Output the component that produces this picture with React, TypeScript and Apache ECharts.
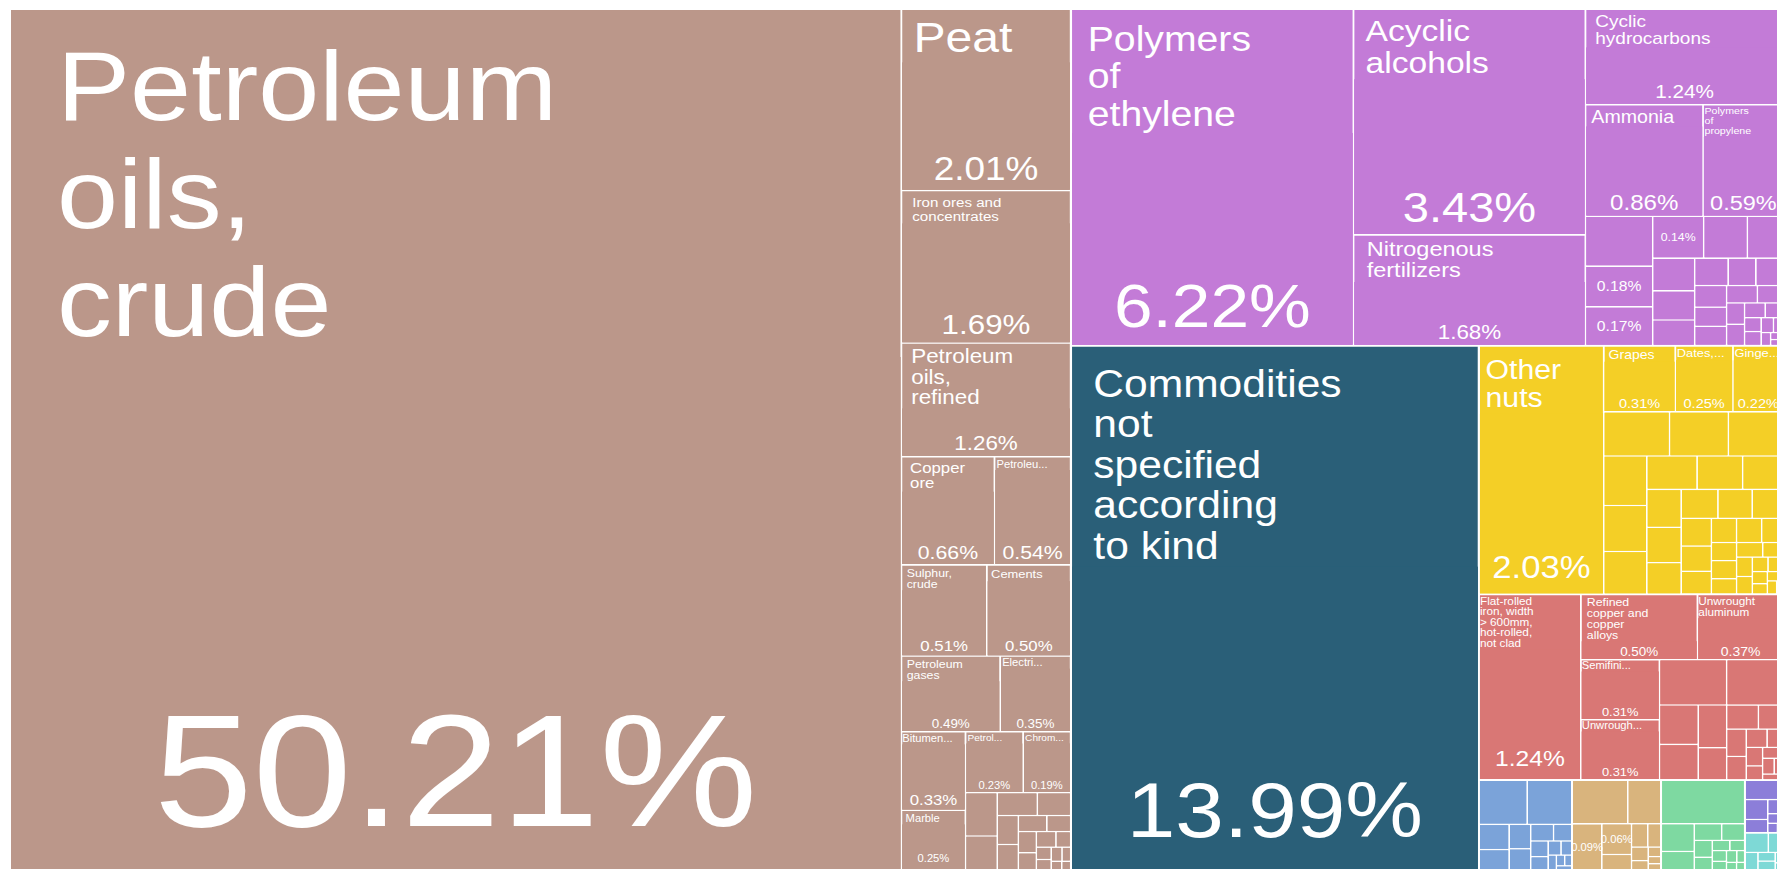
import React, { useEffect, useRef } from 'react';
import * as echarts from 'echarts';

const FONT = '"Liberation Sans", Arial, Helvetica, sans-serif';

// ---------------- DATA (shares of total exports, %) ----------------
const mineralNames = [
  'Petroleum\noils,\ncrude', 'Peat', 'Iron ores and\nconcentrates', 'Petroleum\noils,\nrefined',
  'Copper\nore', 'Petroleu...', 'Sulphur,\ncrude', 'Cements', 'Petroleum\ngases', 'Electri...',
  'Bitumen...', 'Marble', 'Petrol...', 'Chrom...',
];
const mineralValues = [50.21, 2.01, 1.69, 1.26, 0.66, 0.54, 0.51, 0.5, 0.49, 0.35, 0.33, 0.25, 0.23, 0.19];
const mineralSmall = [0.09, 0.07, 0.06, 0.05, 0.04, 0.035, 0.03, 0.025, 0.025, 0.02, 0.02, 0.015, 0.012, 0.01, 0.01, 0.008, 0.006, 0.005];

const chemNames = [
  'Polymers\nof\nethylene', 'Acyclic\nalcohols', 'Nitrogenous\nfertilizers', 'Cyclic\nhydrocarbons',
  'Ammonia', 'Polymers\nof\npropylene', '', '', '', '',
];
const chemValues = [6.22, 3.43, 1.68, 1.24, 0.86, 0.59, 0.22, 0.18, 0.17, 0.14];
const chemSmall = [0.12, 0.1, 0.09, 0.08, 0.07, 0.06, 0.05, 0.05, 0.045, 0.04, 0.04, 0.035, 0.03, 0.025, 0.025, 0.02, 0.018, 0.015, 0.015, 0.012, 0.01, 0.008, 0.006, 0.005];

const unspecNames = ['Commodities\nnot\nspecified\naccording\nto kind'];
const unspecValues = [13.99];

const vegNames = ['Other\nnuts', 'Grapes', 'Dates,...', 'Ginge...'];
const vegValues = [2.03, 0.31, 0.25, 0.22];
const vegSmall = [0.19, 0.17, 0.16, 0.14, 0.13, 0.12, 0.11, 0.1, 0.09, 0.085, 0.08, 0.07, 0.07, 0.065, 0.06, 0.055, 0.05, 0.045, 0.04, 0.04, 0.035, 0.03, 0.03, 0.025, 0.025, 0.02, 0.02, 0.018, 0.015, 0.015, 0.012, 0.01, 0.01, 0.008, 0.006];

const metalNames = [
  'Flat-rolled\niron, width\n> 600mm,\nhot-rolled,\nnot clad', 'Refined\ncopper and\ncopper\nalloys',
  'Unwrought\naluminum', 'Unwrough...', 'Semifini...',
];
const metalValues = [1.24, 0.5, 0.37, 0.31, 0.31];
const metalSmall = [0.2, 0.17, 0.1, 0.09, 0.08, 0.06, 0.05, 0.04, 0.035, 0.03, 0.025, 0.02, 0.02, 0.015, 0.015, 0.012, 0.01, 0.008];

const blueSmall = [0.14, 0.13, 0.05, 0.04, 0.035, 0.03, 0.025, 0.02, 0.018, 0.015, 0.012, 0.01, 0.008, 0.006, 0.005, 0.004];
const tanNames = ['', '', '', ''];
const tanValues = [0.16, 0.095, 0.09, 0.06];
const tanSmall = [0.03, 0.025, 0.02, 0.015, 0.01, 0.008, 0.006, 0.005];
const greenSmall = [0.24, 0.06, 0.04, 0.03, 0.025, 0.02, 0.015, 0.012, 0.01, 0.01, 0.008, 0.008, 0.006, 0.005, 0.004];
const lavenderSmall = [0.05, 0.03, 0.02, 0.015, 0.01, 0.006, 0.004];
const cyanSmall = [0.03, 0.02, 0.015, 0.01, 0.01, 0.006, 0.004];

// ---------------- STYLES ----------------
const COLORS = {
  mineral: '#BB978A',
  chem: '#C37BD7',
  unspec: '#2A5F78',
  veg: '#F4CF26',
  metal: '#D97775',
  blue: '#7BA3D9',
  tan: '#D9B47D',
  green: '#7ED9A1',
  lavender: '#8C7ED9',
  cyan: '#7ED9D6',
};

// [nameFont, nameLineHeight, padTop, padLeft, pctFont, pctDistance]; nameFont 0 = percentage only
type LS = number[] | null;
const mineralStyle: LS[] = [
  [98, 108, 22, 41, 159, 19], [43, 48, 3.5, 10, 33, 5], [13.5, 13.5, 4.3, 9, 28, 4], [20, 20.4, 2.5, 8, 20, 3],
  [15, 15, 3.3, 7, 19, 2], [10, 10, 1.5, 1, 19, 2], [11, 11, 1.5, 4, 15, 2], [11.5, 11.5, 3, 3, 15, 2],
  [11, 11, 1.5, 4, 12, 1.5], [10, 10, 1, 1, 12, 1.5], [10, 10, 1, 0, 15, 2], [10, 10, 2.5, 3, 10, 6],
  [9, 9, 1, 1, 10, 1.5], [9, 9, 1, 1, 10, 1.5],
];
const chemStyle: LS[] = [
  [35, 37.5, 9.6, 14, 62, 8.5], [30, 31.6, 5, 10, 42, 5.5], [21, 21.5, 2.2, 11, 20, 3], [17, 17, 2.6, 8, 18.5, 3],
  [17.5, 17.5, 2.5, 4.5, 21.5, 2], [9.5, 10, 0.5, 0.5, 21, 2], null, [0, 0, 0, 0, 14, 0], [0, 0, 0, 0, 14, 0], [0, 0, 0, 0, 11, 0],
];
const unspecStyle: LS[] = [[38, 40.5, 16.5, 19, 78, 20]];
const vegStyle: LS[] = [[27, 28.5, 8.5, 5, 31, 10], [12.5, 12.5, 1.5, 3.5, 13, 1], [11.5, 11.5, 1, 0.5, 13, 1], [11.5, 11.5, 1, 0.5, 13, 1]];
const metalStyle: LS[] = [[10.5, 10.5, 0.5, 0, 22, 9.5], [11, 11, 1, 4.5, 12, 1], [10.5, 10.5, 1, 0, 12.5, 1], [10, 10, 0, 0, 11.5, 1], [10, 10, 0, 0, 11.5, 1]];
const tanStyle: LS[] = [null, null, [0, 0, 0, 0, 10, 0], [0, 0, 0, 0, 10, 0]];

const CHART_W = 1582;
const CHART_H = 859;
const STRETCH = 1.12;

function pctLabel(v: number, fs: number, dist: number, pos: string) {
  return {
    show: true, position: pos, distance: dist, padding: 0,
    formatter: v.toFixed(2) + '%', fontSize: fs, lineHeight: fs,
    color: '#ffffff', fontFamily: FONT, overflow: 'none',
  };
}

function leaf(name: string, value: number, color: string, st: LS): any {
  const itemStyle = { color, borderColor: color, borderWidth: 0, gapWidth: 0 };
  if (!st) return { name, value, itemStyle, label: { show: false } };
  const [nf, nlh, pt, pl, pf, pd] = st;
  if (!nf) return { name, value, itemStyle, label: pctLabel(value, pf, pd, 'inside') };
  const lines = name.split('\n').length;
  return {
    name,
    value,
    itemStyle,
    upperLabel: {
      show: true, height: pt + lines * nlh + 1, position: 'insideTopLeft', verticalAlign: 'top', align: 'left',
      distance: 0, padding: [pt, 0, 0, pl], fontSize: nf, lineHeight: nlh, color: '#ffffff',
      fontFamily: FONT, overflow: 'none',
    },
    children: [
      { name, value, itemStyle, label: pf ? pctLabel(value, pf, pd, 'insideBottom') : { show: false } },
    ],
  };
}

function group(name: string, color: string, names: string[], values: number[], styles: LS[], small: number[]) {
  const children: any[] = [];
  values.forEach((v, i) => children.push(leaf(names[i], v, color, styles[i] ?? null)));
  small.forEach((v) => children.push(leaf('', v, color, null)));
  return { name, itemStyle: { color, borderColor: '#ffffff', borderWidth: 0, gapWidth: 1.6 }, children };
}

export default function App() {
  const ref = useRef<HTMLDivElement>(null);
  useEffect(() => {
    if (!ref.current) return;
    const chart = echarts.init(ref.current, null, { renderer: 'svg' });
    const data = [
      group('Mineral Products', COLORS.mineral, mineralNames, mineralValues, mineralStyle, mineralSmall),
      group('Chemical Products', COLORS.chem, chemNames, chemValues, chemStyle, chemSmall),
      group('Unspecified', COLORS.unspec, unspecNames, unspecValues, unspecStyle, []),
      group('Vegetable Products', COLORS.veg, vegNames, vegValues, vegStyle, vegSmall),
      group('Metals', COLORS.metal, metalNames, metalValues, metalStyle, metalSmall),
      group('Machines', COLORS.blue, [], [], [], blueSmall),
      group('Foodstuffs', COLORS.tan, tanNames, tanValues, tanStyle, tanSmall),
      group('Animal Products', COLORS.green, [], [], [], greenSmall),
      group('Plastics and Rubbers', COLORS.lavender, [], [], [], lavenderSmall),
      group('Transportation', COLORS.cyan, [], [], [], cyanSmall),
    ];
    chart.setOption({
      animation: false,
      series: [
        {
          type: 'treemap',
          left: 0,
          top: 0,
          width: '100%',
          height: '100%',
          roam: false,
          nodeClick: false,
          silent: true,
          animation: false,
          breadcrumb: { show: false },
          squareRatio: 1,
          sort: 'desc',
          drillDownIcon: '',
          label: { show: false },
          upperLabel: { show: false },
          itemStyle: { borderWidth: 0, gapWidth: 0, borderColor: '#ffffff' },
          levels: [{ itemStyle: { borderWidth: 0, gapWidth: 2, borderColor: '#ffffff' } }],
          data,
        },
      ],
    });
    return () => chart.dispose();
  }, []);
  return (
    <div style={{ position: 'fixed', left: 0, top: 0, width: '100vw', height: '100vh', overflow: 'hidden', background: '#ffffff' }}>
      <div
        ref={ref}
        style={{
          position: 'absolute', left: 11, top: 10, width: CHART_W, height: CHART_H,
          transform: `scaleX(${STRETCH})`, transformOrigin: '0 0',
        }}
      />
    </div>
  );
}
